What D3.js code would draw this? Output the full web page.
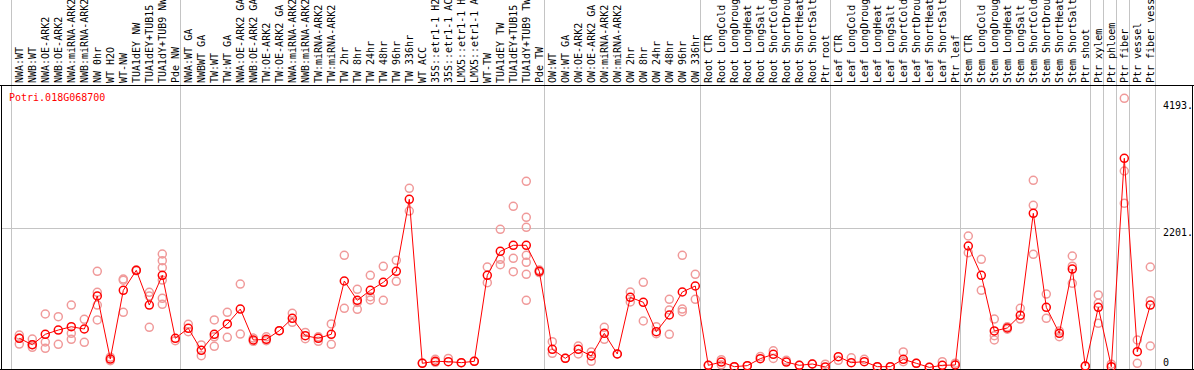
<!DOCTYPE html>
<html>
<head>
<meta charset="utf-8">
<script src="https://cdn.jsdelivr.net/npm/d3@7"></script>
<style>
  html, body { margin: 0; padding: 0; background: white; }
  svg text { font-family: "DejaVu Sans Mono", monospace; font-size: 10px; }
  .sep { stroke: #c4c4c4; stroke-width: 1; }
  .frame { stroke: black; stroke-width: 1; }
  .line { fill: none; stroke: red; stroke-width: 1; }
  .rep { fill: none; stroke: #f09a9a; stroke-width: 1.5; }
  .mean { fill: none; stroke: red; stroke-width: 1.5; }
</style>
</head>
<body>
<div id="chart"></div>
<script>
const gene = 'Potri.018G068700';

const categories = [
  'NWA:WT', 'NWB:WT', 'NWA:OE-ARK2', 'NWB:OE-ARK2', 'NWA:miRNA-ARK2', 'NWB:miRNA-ARK2',
  'NW 0hr', 'WT H2O', 'WT-NW', 'TUA1dEY NW', 'TUA1dEY+TUB15', 'TUA1dY+TUB9 NW', 'Pde NW',
  'NWA:WT GA', 'NWBWT GA', 'TW:WT', 'TW:WT GA', 'NWA:OE-ARK2 GA', 'NWB:OE-ARK2 GA',
  'TW:OE-ARK2', 'TW:OE-ARK2 GA', 'NWA:miRNA-ARK2', 'NWB:miRNA-ARK2', 'TW:miRNA-ARK2',
  'TW:miRNA-ARK2', 'TW 2hr', 'TW 8hr', 'TW 24hr', 'TW 48hr', 'TW 96hr', 'TW 336hr',
  'WT ACC', '35S::etr1-1 H2O', '35S::etr1-1 ACC', 'LMX5::etr1-1 H2O', 'LMX5::etr1-1 ACC',
  'WT-TW', 'TUA1dEY TW', 'TUA1dEY+TUB15', 'TUA1dY+TUB9 TW', 'Pde TW',
  'OW:WT', 'OW:WT GA', 'OW:OE-ARK2', 'OW:OE-ARK2 GA', 'OW:miRNA-ARK2', 'OW:miRNA-ARK2',
  'OW 2hr', 'OW 8hr', 'OW 24hr', 'OW 48hr', 'OW 96hr', 'OW 336hr',
  'Root CTR', 'Root LongCold', 'Root LongDrought', 'Root LongHeat', 'Root LongSalt',
  'Root ShortCold', 'Root ShortDrought', 'Root ShortHeat', 'Root ShortSalt', 'Ptr root',
  'Leaf CTR', 'Leaf LongCold', 'Leaf LongDrought', 'Leaf LongHeat', 'Leaf LongSalt',
  'Leaf ShortCold', 'Leaf ShortDrought', 'Leaf ShortHeat', 'Leaf ShortSalt', 'Ptr leaf',
  'Stem CTR', 'Stem LongCold', 'Stem LongDrought', 'Stem LongHeat', 'Stem LongSalt',
  'Stem ShortCold', 'Stem ShortDrought', 'Stem ShortHeat', 'Stem ShortSalt', 'Ptr shoot',
  'Ptr xylem', 'Ptr phloem', 'Ptr fiber', 'Ptr vessel', 'Ptr fiber vessel'
];

// mean expression per sample
const means = [
  467, 366, 530, 597, 649, 613, 1132, 141, 1221, 1536, 990, 1457, 467,
  624, 278, 530, 692, 927, 440, 451, 586, 781, 508, 467, 530,
  1368, 1064, 1221, 1347, 1520, 2652,
  74, 105, 100, 84, 105,
  1457, 1834, 1929, 1929, 1520,
  294, 152, 294, 189, 545, 220, 1111, 1033, 571, 833, 1195, 1289,
  42, 94, 21, 37, 147, 215, 94, 42, 63, 16,
  178, 84, 100, 21, 21, 137, 74, 10, 42, 47,
  1918, 1457, 582, 629, 828, 2432, 954, 545, 1556, 31,
  954, 21, 3297, 256, 990
];

// individual replicates per sample
const replicates = [
  [519, 377, 467], [456, 325, 366], [849, 409, 310], [807, 372], [990, 545, 451],
  [765, 404], [1520, 1190, 990, 755], [115, 170], [1399, 1380, 876], [1540, 1530],
  [1190, 640, 1130], [1792, 1687, 1577, 1383, 1095, 1001], [429],
  [687, 571], [362, 194], [755, 341, 490], [876, 483], [1320, 534], [470, 420],
  [490, 430], [586], [860, 718], [560, 460], [490, 420], [692, 372],
  [1772, 938], [1237, 923, 1030], [1457, 1121, 1069], [1599, 1064], [1693, 1363], [2825, 2468],
  [80], [137, 90], [150], [84], [105],
  [1588, 1341], [2180, 1709, 1624], [2542, 1724, 1514],
  [2935, 2369, 2212, 1772, 1662, 1473, 1064], [1540, 1500],
  [414, 231], [152], [346, 220], [252, 105], [640, 451], [220], [1195, 1038],
  [1347, 739], [649, 540], [1080, 912, 530], [1772, 927, 885], [1473, 1080],
  [42], [130, 50], [21], [37], [180], [270, 150], [120], [42], [63], [60],
  [120], [160], [137], [21], [21], [252, 100], [74], [10], [100], [75],
  [2075, 1813], [1709, 1221], [770, 508, 440], [650, 610], [938, 770],
  [2951, 2558, 1787], [1163, 781], [492, 580], [1761, 1600, 1331], [31],
  [1148, 1017, 703], [60], [4240, 3097, 2589], [440, 74], [1588, 1058, 346]
];

// group separators are drawn after these samples
const separatorsAfter = ['Pde NW', 'Pde TW', 'OW 336hr', 'Ptr root', 'Ptr leaf',
  'Ptr shoot', 'Ptr xylem', 'Ptr phloem', 'Ptr fiber', 'Ptr fiber vessel'];

const yTicks = [0, 2201, 4193];

const W = 1194, H = 370;
const headerBottom = 85;

const svg = d3.select('#chart').append('svg')
  .attr('width', W).attr('height', H);

// sample names repeat, so position by index
const x = d3.scaleLinear()
  .domain([0, categories.length - 1])
  .range([19.3, 19.3 + 13 * (categories.length - 1)]);

const y = d3.scaleLinear()
  .domain([0, 2201])
  .range([368, 228]);

// vertical separators (full height, header included)
const sepX = [x(0) - 8].concat(separatorsAfter.map(c => x(categories.lastIndexOf(c)) + 5));
svg.append('g').selectAll('line')
  .data(sepX)
  .enter().append('line')
  .attr('class', 'sep')
  .attr('x1', d => Math.round(d) + 0.5).attr('x2', d => Math.round(d) + 0.5)
  .attr('y1', 0).attr('y2', H);

// horizontal grid line at the middle tick
svg.append('line')
  .attr('class', 'sep')
  .attr('x1', 1).attr('x2', 1160)
  .attr('y1', Math.round(y(yTicks[1])) + 0.5).attr('y2', Math.round(y(yTicks[1])) + 0.5);

// frame
svg.append('line').attr('class', 'frame').attr('x1', 0).attr('x2', W).attr('y1', headerBottom + 0.5).attr('y2', headerBottom + 0.5);
svg.append('line').attr('class', 'frame').attr('x1', 1.5).attr('x2', 1.5).attr('y1', headerBottom).attr('y2', H);
svg.append('line').attr('class', 'frame').attr('x1', W - 1.5).attr('x2', W - 1.5).attr('y1', headerBottom).attr('y2', H);
svg.append('line').attr('class', 'frame').attr('x1', 0).attr('x2', W).attr('y1', H - 0.5).attr('y2', H - 0.5);

// sample names, rotated
svg.append('g').selectAll('text')
  .data(categories)
  .enter().append('text')
  .attr('transform', (d, i) => `translate(${x(i)},83) rotate(-90)`)
  .attr('dy', '0.35em')
  .text(d => d);

// gene name
svg.append('text')
  .attr('x', 9).attr('y', 97)
  .attr('dy', '0.35em')
  .attr('fill', 'red')
  .text(gene);

// right side value labels
svg.append('g').selectAll('text')
  .data(yTicks)
  .enter().append('text')
  .attr('x', 1163)
  .attr('y', d => Math.min(y(d) + 4.7, 362))
  .attr('dy', '0.35em')
  .text(d => d === 0 ? '0' : d + '.');

// replicates
const repPoints = [];
replicates.forEach((reps, i) => reps.forEach(v => repPoints.push({ i, v })));
svg.append('g').selectAll('circle')
  .data(repPoints)
  .enter().append('circle')
  .attr('class', 'rep')
  .attr('cx', d => x(d.i))
  .attr('cy', d => y(d.v))
  .attr('r', 4);

// mean line
const line = d3.line()
  .x((d, i) => x(i))
  .y(d => y(d));
svg.append('path')
  .datum(means)
  .attr('class', 'line')
  .attr('d', line);

// mean points
svg.append('g').selectAll('circle')
  .data(means)
  .enter().append('circle')
  .attr('class', 'mean')
  .attr('cx', (d, i) => x(i))
  .attr('cy', d => y(d))
  .attr('r', 4);
</script>
</body>
</html>
